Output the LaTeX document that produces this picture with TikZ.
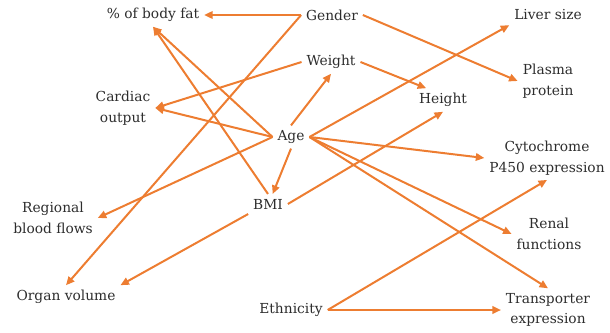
\documentclass[tikz,border=0pt]{standalone}
\usepackage{fontspec}
\setmainfont{DejaVu Serif}
\usetikzlibrary{arrows.meta}
\definecolor{edgeorange}{RGB}{237,125,49}
\definecolor{labelgray}{RGB}{45,45,45}

\begin{document}
\begin{tikzpicture}[x=1pt,y=-1pt,
    factor/.style={text=labelgray,font=\fontsize{13.8}{20.5}\selectfont,align=center,inner sep=2pt,outer sep=3pt},
    influence/.style={draw=edgeorange,line width=2pt,-{Triangle[length=8.5pt,width=7.5pt]}}]
\useasboundingbox (0,0) rectangle (610,332);

% covariates
\node[factor] (gender) at (332,15) {Gender};
\node[factor] (weight) at (331,62) {Weight};
\node[factor] (age) at (291,137) {Age};
\node[factor] (bmi) at (268,204) {BMI};
\node[factor] (ethnicity) at (291,310) {Ethnicity};
\node[factor] (height) at (443,100) {Height};

% left side
\node[factor] (pbf) at (153,15) {\% of body fat};
\node[factor] (cardiac) at (123,108) {Cardiac\\output};
\node[factor] (regional) at (53,218) {Regional\\blood flows};
\node[factor] (organ) at (66,297) {Organ volume};

% right side
\node[factor] (liver) at (548,15) {Liver size};
\node[factor] (plasma) at (548,81) {Plasma\\protein};
\node[factor] (cyto) at (547,158) {Cytochrome\\P450 expression};
\node[factor] (renal) at (549,234) {Renal\\functions};
\node[factor] (transporter) at (548,310) {Transporter\\expression};

\newcommand{\infl}[2]{
    \draw[influence] (#1)--(#2);
}

\infl{gender.west}{pbf.east}
\infl{gender.west}{organ.north}
\infl{gender.east}{plasma.west}
\infl{weight.west}{cardiac.east}
\infl{weight.east}{height.145}
\infl{age.north}{weight.south}
\infl{age.west}{cardiac.east}
\infl{age.west}{pbf.south}
\infl{age.west}{regional.east}
\infl{age.south}{bmi.65}
\infl{age.east}{liver.south west}
\infl{age.east}{cyto.west}
\infl{age.east}{renal.west}
\infl{age.east}{transporter.north}
\infl{bmi.north}{pbf.south}
\infl{bmi.east}{height.south}
\infl{bmi.south west}{organ.north east}
\infl{ethnicity.east}{cyto.south}
\infl{ethnicity.east}{transporter.west}
\end{tikzpicture}
\end{document}
